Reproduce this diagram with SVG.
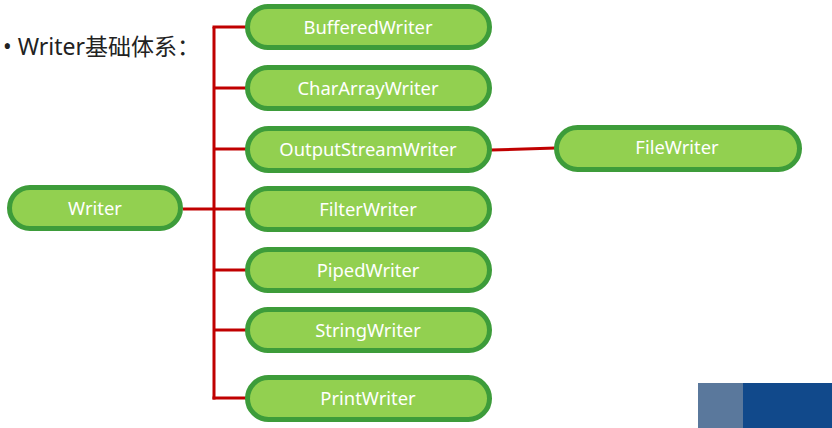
<svg xmlns="http://www.w3.org/2000/svg" width="832" height="428" viewBox="0 0 832 428">
<style>
.node rect{fill:#92d050;stroke:#3d9c3a;stroke-width:5}
.node text{fill:#ffffff;font-family:"Noto Sans","Open Sans","Liberation Sans",sans-serif;font-size:18.4px;text-anchor:middle;dominant-baseline:central}
.conn{stroke:#c00000;stroke-width:3;fill:none}
</style>
<rect x="0" y="0" width="832" height="428" fill="#ffffff"/>
<text x="3" y="55" font-family="'Noto Sans','Noto Sans CJK SC',sans-serif" font-size="23" fill="#222222">• Writer基础体系：</text>
<g id="connectors">
<line class="conn" x1="214" y1="27" x2="214" y2="399.5"/>
<line class="conn" x1="183" y1="209" x2="214" y2="209"/>
<line class="conn" x1="212.5" y1="27" x2="246" y2="27"/>
<line class="conn" x1="214" y1="88" x2="246" y2="88"/>
<line class="conn" x1="214" y1="149" x2="246" y2="149"/>
<line class="conn" x1="214" y1="209" x2="246" y2="209"/>
<line class="conn" x1="214" y1="270" x2="246" y2="270"/>
<line class="conn" x1="214" y1="330" x2="246" y2="330"/>
<line class="conn" x1="212.5" y1="398" x2="246" y2="398"/>
<line class="conn" x1="491" y1="150" x2="556" y2="148"/>
</g>
<g id="writer" class="node"><rect x="9.5" y="187.5" width="171" height="41" rx="20.5"/><text x="95" y="207">Writer</text></g>
<g id="bufferedwriter" class="node"><rect x="247.5" y="6.5" width="242" height="41" rx="20.5"/><text x="368" y="26">BufferedWriter</text></g>
<g id="chararraywriter" class="node"><rect x="247.5" y="67.5" width="242" height="41" rx="20.5"/><text x="368" y="87">CharArrayWriter</text></g>
<g id="outputstreamwriter" class="node"><rect x="247.5" y="128.5" width="242" height="42" rx="21"/><text x="368" y="148">OutputStreamWriter</text></g>
<g id="filterwriter" class="node"><rect x="247.5" y="188.5" width="242" height="41" rx="20.5"/><text x="368" y="208">FilterWriter</text></g>
<g id="pipedwriter" class="node"><rect x="247.5" y="249.5" width="242" height="41" rx="20.5"/><text x="368" y="269">PipedWriter</text></g>
<g id="stringwriter" class="node"><rect x="247.5" y="309.5" width="242" height="41" rx="20.5"/><text x="368" y="329">StringWriter</text></g>
<g id="printwriter" class="node"><rect x="247.5" y="377.5" width="242" height="42" rx="21"/><text x="368" y="397">PrintWriter</text></g>
<g id="filewriter" class="node"><rect x="556.5" y="127.5" width="243" height="42" rx="21"/><text x="677" y="146">FileWriter</text></g>
<rect x="698" y="383" width="45" height="45" fill="#5a789c"/>
<rect x="743" y="383" width="89" height="45" fill="#11498b"/>
</svg>
